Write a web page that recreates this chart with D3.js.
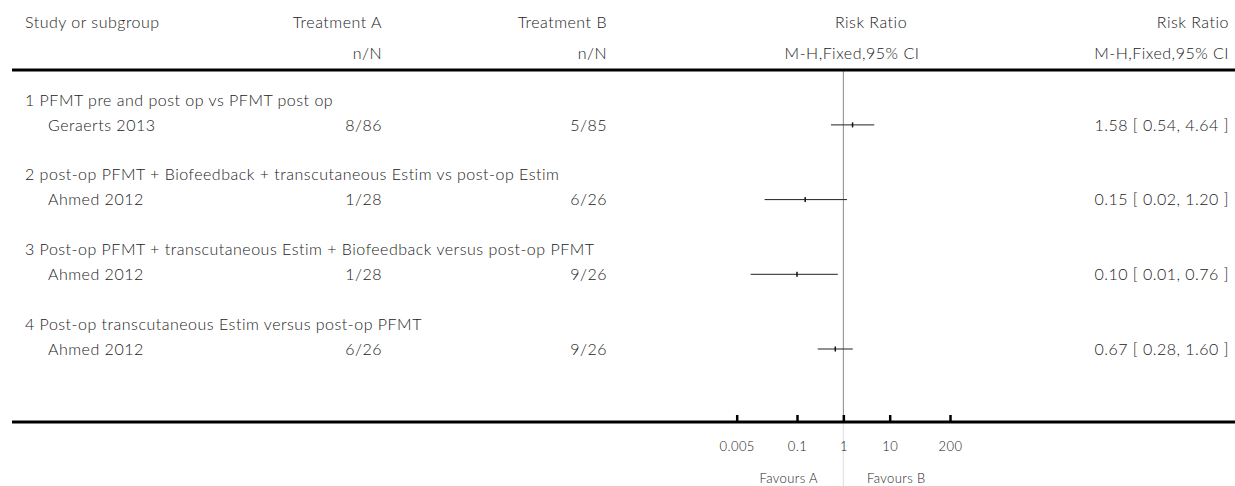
<!DOCTYPE html>
<html>
<head>
<meta charset="utf-8">
<style>
  body { margin: 0; background: #fff; }
  text { font-family: "Lato", "Open Sans", sans-serif; font-weight: 300; fill: #222; }
</style>
</head>
<body>
<svg id="forest" width="1235" height="486"></svg>
<script src="https://d3js.org/d3.v7.min.js"></script>
<script>

var groups = [
  "1 PFMT pre and post op vs PFMT post op",
  "2 post-op PFMT + Biofeedback + transcutaneous Estim vs post-op Estim",
  "3 Post-op PFMT + transcutaneous Estim + Biofeedback versus post-op PFMT",
  "4 Post-op transcutaneous Estim versus post-op PFMT"
];
var studies = ["Geraerts 2013", "Ahmed 2012", "Ahmed 2012", "Ahmed 2012"];
var eventsA = ["8/86", "1/28", "1/28", "6/26"];
var eventsB = ["5/85", "6/26", "9/26", "9/26"];
var rr    = [1.58, 0.15, 0.10, 0.67];
var lower = [0.54, 0.02, 0.01, 0.28];
var upper = [4.64, 1.20, 0.76, 1.60];
var tickValues = [0.005, 0.1, 1, 10, 200];
var tickLabels = ["0.005", "0.1", "1", "10", "200"];

var svg = d3.select("#forest"),
    width = +svg.attr("width"),
    height = +svg.attr("height"),
    fs = 16,
    ls = "0.5px",
    axisY = 422;

// log scale for the risk ratio
var x = d3.scaleLog().domain([0.005, 200]).range([736.7, 950]);

// row index -> y (heading, study, blank per group)
var y = d3.scaleLinear().domain([0, 10]).range([100, 349]);

function fmt(v) { return d3.format(".2f")(v); }

// header
var head = svg.append("g").style("font-size", fs + "px").style("letter-spacing", ls);
head.append("text").attr("x", 25).attr("y", 22).attr("dy", "0.35em").text("Study or subgroup");
head.append("text").attr("x", 382).attr("y", 22).attr("dy", "0.35em").attr("text-anchor", "end").text("Treatment A");
head.append("text").attr("x", 382).attr("y", 53).attr("dy", "0.35em").attr("text-anchor", "end").text("n/N");
head.append("text").attr("x", 607).attr("y", 22).attr("dy", "0.35em").attr("text-anchor", "end").text("Treatment B");
head.append("text").attr("x", 607).attr("y", 53).attr("dy", "0.35em").attr("text-anchor", "end").text("n/N");
head.append("text").attr("x", 871).attr("y", 22).attr("dy", "0.35em").attr("text-anchor", "middle").text("Risk Ratio");
head.append("text").attr("x", 852).attr("y", 53).attr("dy", "0.35em").attr("text-anchor", "middle").text("M-H,Fixed,95% CI");
head.append("text").attr("x", 1229).attr("y", 22).attr("dy", "0.35em").attr("text-anchor", "end").text("Risk Ratio");
head.append("text").attr("x", 1229).attr("y", 53).attr("dy", "0.35em").attr("text-anchor", "end").text("M-H,Fixed,95% CI");

// null line
svg.append("line").attr("x1", x(1)).attr("x2", x(1)).attr("y1", 70).attr("y2", axisY)
  .attr("stroke", "#888").attr("stroke-width", 1);
svg.append("line").attr("x1", x(1)).attr("x2", x(1)).attr("y1", axisY).attr("y2", height)
  .attr("stroke", "#ddd").attr("stroke-width", 1);

// top rule
svg.append("line").attr("x1", 12).attr("x2", width).attr("y1", 70).attr("y2", 70)
  .attr("stroke", "#000").attr("stroke-width", 3);

var rows = svg.append("g").style("font-size", fs + "px").style("letter-spacing", ls);

groups.forEach(function(gname, i) {
  var yh = y(i * 3), ys = y(i * 3 + 1);
  rows.append("text").attr("x", 25).attr("y", yh).attr("dy", "0.35em").text(gname);
  rows.append("text").attr("x", 48).attr("y", ys).attr("dy", "0.35em").text(studies[i]);
  rows.append("text").attr("x", 382).attr("y", ys).attr("dy", "0.35em").attr("text-anchor", "end").text(eventsA[i]);
  rows.append("text").attr("x", 607).attr("y", ys).attr("dy", "0.35em").attr("text-anchor", "end").text(eventsB[i]);
  rows.append("text").attr("x", 1229).attr("y", ys).attr("dy", "0.35em").attr("text-anchor", "end")
    .text(fmt(rr[i]) + " [ " + fmt(lower[i]) + ", " + fmt(upper[i]) + " ]");

  rows.append("line")
    .attr("x1", x(lower[i])).attr("x2", x(upper[i]))
    .attr("y1", ys).attr("y2", ys)
    .attr("stroke", "#222").attr("stroke-width", 1);
  rows.append("rect")
    .attr("x", x(rr[i]) - 0.75).attr("y", ys - 2.5)
    .attr("width", 1.5).attr("height", 5)
    .attr("fill", "#111");
});

// bottom axis
svg.append("line").attr("x1", 12).attr("x2", width).attr("y1", axisY).attr("y2", axisY)
  .attr("stroke", "#000").attr("stroke-width", 3);

var axis = svg.append("g")
  .attr("transform", "translate(0," + axisY + ")")
  .call(d3.axisBottom(x)
    .tickValues(tickValues)
    .tickFormat(function(d, i) { return tickLabels[i]; })
    .tickSizeInner(-7)
    .tickSizeOuter(0)
    .tickPadding(20));
axis.select(".domain").remove();
axis.selectAll(".tick line").attr("stroke", "#000").attr("stroke-width", 2.5);
axis.selectAll(".tick text")
  .style("font-family", "Lato, 'Open Sans', sans-serif")
  .style("font-weight", 300)
  .style("font-size", "13px")
  .style("letter-spacing", "0.4px")
  .attr("fill", "#222");

var fav = svg.append("g").style("font-size", "13px").style("letter-spacing", "0.4px");
fav.append("text").attr("x", 818).attr("y", 478).attr("dy", "0.35em").attr("text-anchor", "end").text("Favours A");
fav.append("text").attr("x", 867).attr("y", 478).attr("dy", "0.35em").text("Favours B");

</script>
</body>
</html>
